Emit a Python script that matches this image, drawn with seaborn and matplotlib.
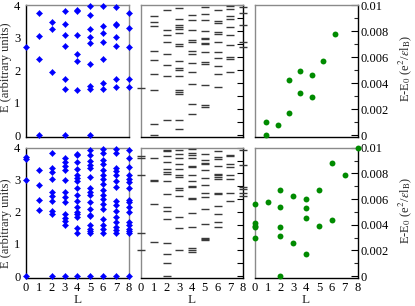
import numpy as np
import pandas as pd
import matplotlib
matplotlib.use("Agg")
import matplotlib.pyplot as plt
import seaborn as sns

# ---------------- data (index of outer list = L) ----------------
L_values = [0, 1, 2, 3, 4, 5, 6, 7, 8]

# top-left: energy spectrum (arbitrary units)
top_left_E = [
    [2.72],
    [3.74, 3.05, 2.33, 0.0],
    [3.49, 3.25, 1.95],
    [3.83, 3.42, 3.07, 2.75, 1.71, 1.41, 0.0],
    [3.84, 3.81, 3.08, 2.49, 2.28, 1.38],
    [3.97, 3.69, 3.27, 3.03, 2.84, 2.17, 1.51, 1.43, 0.0],
    [3.97, 3.36, 3.15, 2.87, 2.33, 1.61, 1.41],
    [3.95, 3.43, 3.40, 3.03, 2.75, 1.73, 1.49],
    [3.76, 3.28, 2.70, 1.71, 1.47],
]

# top-middle: level dashes
top_mid_E = [
    [1.44],
    [3.66, 3.47, 3.35, 2.57, 2.30, 1.87, 1.39, 0.35, 0.0],
    [3.84, 3.22, 3.07, 2.85, 2.48, 2.14, 1.82, 0.47],
    [3.90, 3.56, 3.39, 3.33, 3.26, 3.15, 2.79, 2.75, 2.28, 2.05, 1.99, 1.82,
     1.39, 1.33, 1.27, 0.45, 0.18],
    [3.69, 3.54, 3.24, 2.91, 2.86, 2.57, 2.50, 2.22, 1.93, 1.56, 0.96, 0.64],
    [3.93, 3.71, 3.54, 3.20, 2.98, 2.94, 2.84, 2.79, 2.54, 2.24, 2.19, 1.53,
     0.91, 0.86],
    [3.85, 3.51, 3.46, 3.17, 3.10, 2.85, 2.56, 2.36, 2.13, 1.87, 1.47],
    [3.97, 3.87, 3.67, 3.57, 3.32, 3.09, 2.78, 2.40, 2.33, 1.94],
    [3.95, 3.76, 3.38, 2.87, 2.72],
]

# top-right: E - E0 (e^2/eps l_B)
top_right_L = [1, 1, 2, 3, 3, 4, 4, 5, 5, 6, 7]
top_right_dE = [0.0, 0.0010, 0.0008, 0.0017, 0.0042, 0.0032, 0.0049,
                0.0029, 0.0046, 0.0057, 0.0078]

# bottom-left: energy spectrum
bot_left_E = [
    [3.72, 3.66, 2.98, 0.0],
    [3.32, 2.85, 2.36, 2.07],
    [3.83, 3.37, 3.24, 3.02, 2.62, 2.50, 2.33, 2.02, 1.93, 0.0],
    [3.68, 3.55, 3.43, 3.30, 2.98, 2.62, 2.47, 2.31, 1.92, 1.81, 1.71, 1.59, 0.0],
    [3.81, 3.76, 3.55, 3.33, 3.14, 3.06, 2.97, 2.75, 2.54, 2.33, 2.16, 2.00,
     1.92, 1.84, 1.50, 1.33, 0.0],
    [3.92, 3.78, 3.58, 3.45, 3.37, 3.09, 2.73, 2.62, 2.52, 2.31, 2.10, 1.90,
     1.88, 1.59, 1.48, 1.40, 1.33, 0.0],
    [3.95, 3.84, 3.61, 3.50, 3.30, 3.14, 3.04, 2.88, 2.67, 2.52, 2.39, 2.26,
     2.10, 1.79, 1.59, 1.46, 1.33, 0.0],
    [3.95, 3.84, 3.37, 3.26, 3.14, 2.95, 2.78, 2.33, 2.21, 2.02, 1.84, 1.67,
     1.53, 1.43, 1.33, 0.0],
    [3.92, 3.68, 3.40, 3.16, 3.04, 2.93, 2.75, 2.36, 2.31, 2.16, 2.00, 1.69,
     1.59, 1.48, 1.40, 1.33, 0.0],
]

# bottom-middle: level dashes
bot_mid_E = [
    [3.73, 3.68, 3.14, 1.33, 0.81],
    [3.68, 3.00, 2.97, 2.24, 1.05],
    [3.94, 3.89, 3.75, 3.55, 3.34, 3.24, 3.18, 2.95, 2.55, 2.14, 2.03, 1.78,
     1.02, 0.70, 0.41, 0.0],
    [3.92, 3.80, 3.68, 3.49, 3.34, 3.14, 3.10, 2.74, 2.69, 2.50, 1.84, 1.49, 0.81],
    [3.96, 3.83, 3.78, 3.68, 3.42, 3.40, 3.16, 2.95, 2.82, 2.77, 2.43, 2.40,
     1.98, 1.53, 0.86, 0.81, 0.74],
    [3.81, 3.63, 3.52, 3.49, 3.31, 3.07, 2.84, 2.60, 2.45, 2.09, 1.61, 1.20,
     1.16, 1.11],
    [3.89, 3.71, 3.66, 3.42, 3.18, 3.14, 3.08, 3.02, 2.60, 2.55, 2.19, 1.93,
     1.68, 1.52],
    [3.78, 3.73, 3.49, 3.39, 3.14, 3.03, 2.58, 2.34],
    [3.92, 3.45, 2.76, 2.71, 2.58, 2.48],
]

# bottom-right: E - E0
bot_right_L = [0, 0, 0, 0, 0, 1, 2, 2, 2, 2, 2, 3, 3, 4, 4, 4, 4, 5, 5, 6, 6, 7, 8]
bot_right_dE = [0.0056, 0.0041, 0.0039, 0.0038, 0.0030, 0.0058,
                0.0067, 0.0054, 0.0038, 0.0031, 0.0, 0.0062, 0.0026,
                0.0060, 0.0053, 0.0045, 0.0017, 0.0067, 0.0039,
                0.0088, 0.0044, 0.0079, 0.0100]

right_tick_vals = [0, 0.002, 0.004, 0.006, 0.008, 0.01]
right_tick_labels = ["0", "0.002", "0.004", "0.006", "0.008", "0.01"]
left_tick_vals = [0, 1, 2, 3, 4]


def to_frame(levels):
    rows = [(L, e) for L, es in zip(L_values, levels) for e in es]
    return pd.DataFrame(rows, columns=["L", "E"])


# ---------------- style ----------------
sns.set_style("white")
plt.rcParams["font.family"] = ["Liberation Serif", "DejaVu Serif"]
plt.rcParams["mathtext.fontset"] = "stix"

W, H = 415, 306
fig = plt.figure(figsize=(W / 100, H / 100), dpi=100)


def px_axes(x0, x1, y0, y1):
    return fig.add_axes([x0 / W, 1 - y1 / H, (x1 - x0) / W, (y1 - y0) / H])


cols = [(26, 128.7), (141, 243), (254.7, 357.5)]
rows = [(5, 137), (147.7, 278)]

BLUE = "#0000ff"
GREEN = "#008b00"
DASH = "#3a3a3a"
GRAY = "#8a8a8a"

YLIM = (-0.06, 4.0)
RLIM = (-0.00015, 0.01)

axes = {}
for r, (y0, y1) in enumerate(rows):
    for c, (x0, x1) in enumerate(cols):
        ax = px_axes(x0, x1, y0, y1)
        axes[(r, c)] = ax
        for s in ax.spines.values():
            s.set_color(GRAY)
            s.set_linewidth(1.0)
        ax.tick_params(direction="in", length=4, width=0.8, labelsize=9,
                       colors="black", pad=4)

for r in range(2):
    bottom = r == 1
    # ---- left panel ----
    ax = axes[(r, 0)]
    df = to_frame(top_left_E if r == 0 else bot_left_E)
    sns.scatterplot(data=df, x="L", y="E", ax=ax, marker="D", s=10,
                    color=BLUE, linewidth=0.3, edgecolor=BLUE, clip_on=False,
                    zorder=3, legend=False)
    ax.set_xlim(0, 8)
    ax.set_ylim(*YLIM)
    ax.set_yticks(left_tick_vals)
    ax.set_xticks(range(0, 9))
    ax.spines["left"].set_color("black")
    ax.spines["bottom"].set_color("black")
    ax.set_ylabel("E (arbitrary units)", fontsize=9, va="center")
    ax.yaxis.set_label_coords(-0.19, 0.53 if r == 0 else 0.42)

    # ---- middle panel ----
    ax = axes[(r, 1)]
    df = to_frame(top_mid_E if r == 0 else bot_mid_E)
    sns.scatterplot(data=df, x="L", y="E", ax=ax, marker="_", s=34,
                    color=DASH, linewidth=1.0, clip_on=False, zorder=3,
                    legend=False)
    ax.set_xlim(0, 8)
    ax.set_ylim(*YLIM)
    ax.set_xticks(range(0, 9))
    ax.set_yticks(np.linspace(0, 4, 11))
    ax.yaxis.tick_right()
    ax.tick_params(axis="y", labelright=False, length=4)
    ax.tick_params(axis="x", colors=GRAY, labelcolor="black")
    ax.spines["right"].set_color("black")
    ax.spines["bottom"].set_color("black")
    ax.set_ylabel("")

    # ---- right panel ----
    ax = axes[(r, 2)]
    if r == 0:
        dfr = pd.DataFrame({"L": top_right_L, "dE": top_right_dE})
    else:
        dfr = pd.DataFrame({"L": bot_right_L, "dE": bot_right_dE})
    sns.scatterplot(data=dfr, x="L", y="dE", ax=ax, marker="o", s=18,
                    color=GREEN, linewidth=0, clip_on=False, zorder=3,
                    legend=False)
    if r == 0:
        ax.set_xlim(0, 9)
        ax.set_xticks(range(0, 10))
    else:
        ax.set_xlim(0, 8)
        ax.set_xticks(range(0, 9))
    ax.set_ylim(*RLIM)
    ax.yaxis.tick_right()
    ax.yaxis.set_label_position("right")
    ax.set_yticks(right_tick_vals)
    ax.set_yticklabels(right_tick_labels)
    ax.set_yticks(np.arange(0.001, 0.01, 0.002), minor=True)
    ax.tick_params(axis="y", which="major", length=5, pad=2)
    ax.tick_params(axis="y", which="minor", direction="in", length=3,
                   width=0.8, right=True, left=False)
    ax.spines["right"].set_color("black")
    ax.spines["bottom"].set_color("black")
    ax.set_ylabel(r"E-E$_{\rm 0}$ (e$^{\rm 2}$/$\varepsilon$l$_{\rm B}$)",
                  fontsize=9, va="center", rotation=90)
    ax.yaxis.set_label_coords(1.46, 0.52)

    for c in range(3):
        ax = axes[(r, c)]
        if bottom:
            ax.set_xlabel("L", fontsize=9.5, va="center")
            ax.xaxis.set_label_coords(0.5, -0.17)
            ax.tick_params(axis="x", labelbottom=True, pad=3)
        else:
            ax.set_xlabel("")
            ax.tick_params(axis="x", labelbottom=False)

fig.savefig("out.png", dpi=100)
